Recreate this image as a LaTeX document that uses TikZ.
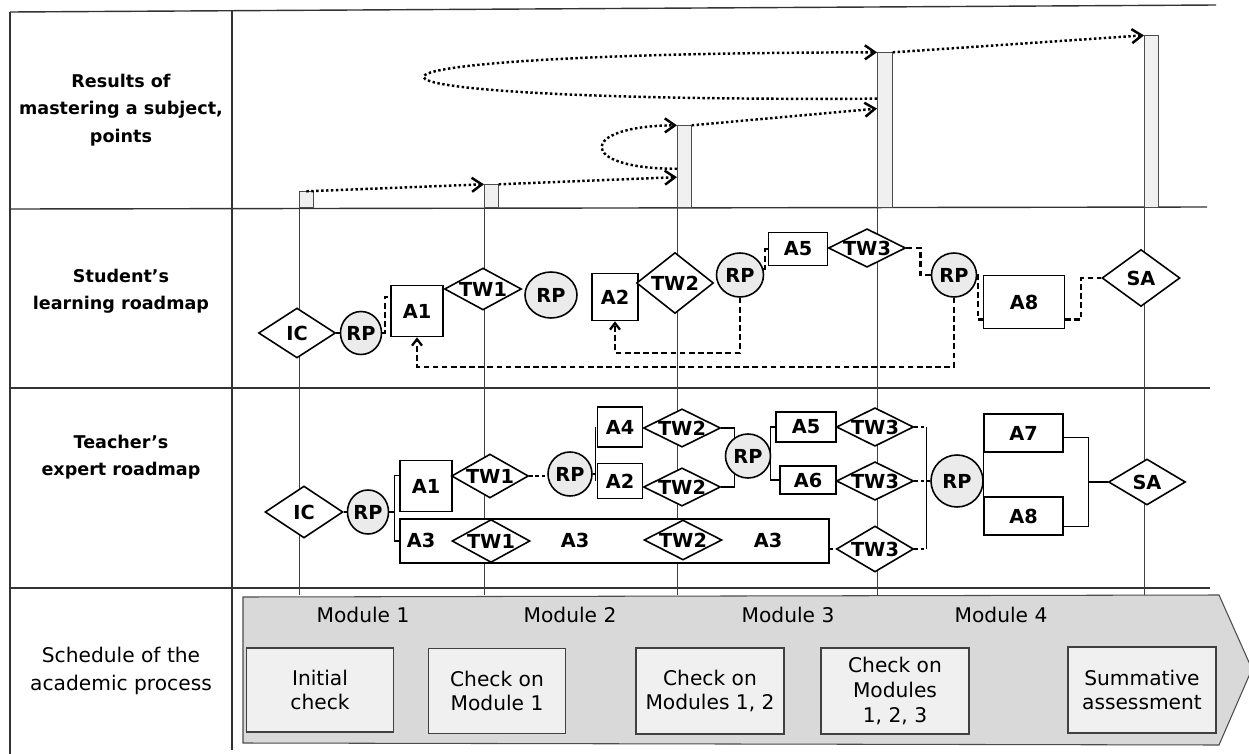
\documentclass[tikz,border=0pt]{standalone}
\usepackage{fontspec}
\setmainfont{DejaVu Sans}
\usetikzlibrary{shapes.geometric, arrows.meta}

\begin{document}
\begin{tikzpicture}[x=0.02cm, y=-0.02cm,
   sz/.style 2 args={minimum width=#1*0.2mm, minimum height=#2*0.2mm},
   act/.style={draw, line width=0.9pt, rectangle, inner sep=0pt, fill=white, font=\bfseries\fontsize{11}{13}\selectfont},
   tw/.style={draw, line width=0.9pt, diamond, aspect=2, inner sep=0pt, fill=white, font=\bfseries\fontsize{11}{13}\selectfont},
   rp/.style={draw, line width=0.9pt, ellipse, inner sep=0pt, fill=black!8, font=\bfseries\fontsize{11}{13}\selectfont},
   lbl/.style={font=\bfseries\fontsize{11}{13}\selectfont},
   bar/.style={draw=black!70, fill=black!6, inner sep=0pt, anchor=south west},
   tabline/.style={line width=0.8pt, black!80},
   tl/.style={black!75, line width=0.4pt},
   res/.style={line width=1.4pt, dash pattern=on 1.4pt off 1.4pt, -{Straight Barb[length=2mm, width=2.8mm]}},
   fb/.style={line width=1.3pt, dash pattern=on 3.2pt off 2pt, -{Straight Barb[length=1.3mm, width=2mm]}},
   sl/.style={line width=1.3pt, dash pattern=on 3.2pt off 2pt},
   tlk/.style={line width=0.9pt, dash pattern=on 2pt off 1.5pt},
   br/.style={line width=0.6pt},
   rowlab/.style={align=center, font=\bfseries\fontsize{10}{15.5}\selectfont},
   modlab/.style={font=\fontsize{11.5}{14}\selectfont},
   sched/.style={draw=black!75, semithick, fill=black!6, align=center, inner sep=0pt, font=\fontsize{11.5}{14}\selectfont}]
\useasboundingbox (0,0) rectangle (1249,754);

\draw[tabline] (10,12) -- (1216,5);
\draw[tabline] (10,12) -- (10,754);
\draw[tabline] (232,11) -- (232,750);
\draw[tabline] (10,209) -- (1207,207);
\draw[tabline] (10,388) -- (1210,388);
\draw[tabline] (10,588) -- (1210,588);

\node[rowlab] (lres) at (121,110) {Results of\\mastering a subject,\\points};
\node[rowlab] (lstu) at (121,291) {Student's\\learning roadmap};
\node[rowlab] (ltea) at (121,457) {Teacher's\\expert roadmap};
\node[rowlab, font=\fontsize{11.5}{16}\selectfont] (lsch) at (121,671) {Schedule of the\\academic process};

\draw[draw=black!70, semithick, fill=black!15] (243,597) -- (1219,595) -- (1252,669) -- (1219,745) -- (243,743) -- cycle;
\foreach \x/\n in {363/1, 570/2, 788/3, 1001/4}
  \node[modlab] (m\n) at (\x,615) {Module \n};
\node[sched, sz={147}{84}] (s1) at (320,690) {Initial\\check};
\node[sched, sz={137}{85}] (s2) at (497,691) {Check on\\Module 1};
\node[sched, sz={148}{86}] (s3) at (710,691) {Check on\\Modules 1, 2};
\node[sched, sz={148}{86}] (s4) at (895,691) {Check on\\Modules\\1, 2, 3};
\node[sched, sz={148}{86}] (s5) at (1142,690) {Summative\\assessment};

\node[bar, sz={14}{16}] (r1) at (299,208) {};
\node[bar, sz={14}{23}] (r2) at (484,208) {};
\node[bar, sz={14}{82}] (r3) at (677,208) {};
\node[bar, sz={15}{155}] (r4) at (877,208) {};
\node[bar, sz={14}{172}] (r5) at (1144,208) {};
\foreach \r in {1,...,5}
  \draw[tl] (r\r.south west) -- ++(0,387);

\draw[res] (r1.north) -- (r2.north west);
\draw[res] (r2.north east) -- (r3.235);
\draw[res] (r3.196) .. controls (577,169) and (577,126) .. (r3.north west);
\draw[res] (r3.north east) -- (r4.110);
\draw[res] (r4.104) .. controls (273,102) and (273,53) .. (r4.north west);
\draw[res] (r4.north east) -- (r5.north west);

\node[tw, sz={77}{50}] (ics) at (297,333) {IC};
\node[rp, sz={37}{43}] (rps1) at (361,333) {RP};
\node[act, sz={52}{51}] (a1s) at (417,311) {A1};
\node[tw, sz={77}{42}] (tw1s) at (483,289) {TW1};
\node[rp, sz={52}{46}] (rps2) at (551,295) {RP};
\node[act, sz={46}{47}] (a2s) at (615,297) {A2};
\node[tw, sz={77}{61}] (tw2s) at (675,283) {TW2};
\node[rp, sz={47}{44}] (rps3) at (740,275) {RP};
\node[act, sz={59}{33}] (a5s) at (798,249) {A5};
\node[tw, sz={77}{38}] (tw3s) at (867,248) {TW3};
\node[rp, sz={45}{44}] (rps4) at (954,275) {RP};
\node[act, sz={81}{53}] (a8s) at (1024,302) {A8};
\node[tw, sz={78}{57}] (sas) at (1141,278) {SA};

\draw[br] (ics.east) -- (rps1.west);
\draw[sl] (rps1.east) -- ++(3,0) |- (a1s.152);
\draw[sl] (rps3.15) -- ++(2,0) |- (a5s.west);
\draw[sl] (tw3s.east) -- ++(14,0) |- (rps4.west);
\draw[sl] (rps4.east) -- ++(1,0) |- (a8s.203);
\draw[sl] (a8s.-23) -- ++(16,0) |- (sas.west);
\draw[fb] (rps3.south) -- ++(0,55) -| (a2s.south);
\draw[fb] (rps4.south) -- ++(0,69) -| (a1s.south);

\node[tw, sz={78}{52}] (ict) at (304,512) {IC};
\node[rp, sz={37}{44}] (rpt1) at (368,512) {RP};
\node[act, sz={52}{51}] (a1t) at (426,486) {A1};
\node[act, sz={429}{44}] (a3t) at (614.5,541) {};
\foreach \x/\n in {421/x, 575/y, 768/z}
  \node[lbl] (a3\n) at (\x,540) {A3};
\node[tw, sz={77}{44}] (tw1t) at (490,476) {TW1};
\node[tw, sz={78}{43}] (tw1u) at (491,541) {TW1};
\node[rp, sz={44}{44}] (rpt2) at (570,474) {RP};
\node[act, sz={45}{40}] (a4t) at (620,427) {A4};
\node[act, sz={45}{35}] (a2t) at (620,481) {A2};
\node[tw, sz={77}{38}] (tw2t) at (682,428) {TW2};
\node[tw, sz={77}{38}] (tw2u) at (682,487) {TW2};
\node[tw, sz={78}{40}] (tw2v) at (683,540) {TW2};
\node[act, sz={60}{30}] (a5t) at (806,427) {A5};
\node[act, sz={56}{28}] (a6t) at (808,480) {A6};
\node[tw, sz={77}{37}] (tw3t) at (875,427) {TW3};
\node[tw, sz={77}{37}] (tw3u) at (875,481) {TW3};
\node[tw, sz={77}{46}] (tw3v) at (875,549) {TW3};

\draw[br] (ict.east) -- (rpt1.west);
\draw[br] (rpt1.east) -- ++(5,0) coordinate (b1);
\draw[br] (a1t.159) -| (b1) |- (a3t.west);
\draw[tlk] (tw1t.east) -- (tw1t.east -| rpt2.west);
\draw[br] (rpt2.east) -- ++(3,0) coordinate (b2);
\draw[br] (b2 |- a4t.west) -- (b2 |- a2t.west);
\draw[br] (tw2t.east) -- ++(13,0) |- (tw2u.east);
\node[rp, sz={45}{44}] (rpt3) at (748,456) {RP};
\draw[br] (a5t.west) -- ++(-5,0) |- (a6t.west);

\node[rp, sz={52}{52}] (rpt4) at (957,481) {RP};
\node[act, sz={79}{38}] (a7t) at (1023.5,433) {A7};
\node[act, sz={79}{38}] (a8t) at (1023.5,516) {A8};
\node[tw, sz={77}{46}] (sat) at (1147,482) {SA};

\draw[tlk] (tw3v.west -| a3t.east) -- (tw3v.west);
\draw[tlk] (tw3t.east) -- ++(12,0) coordinate (c1);
\draw[tlk] (tw3u.east) -- ++(12,0) coordinate (c2);
\draw[tlk] (tw3v.east) -- ++(12,0) coordinate (c3);
\draw[br] (c1) -- (c3);
\draw[tlk] (c2) -- (c2 -| rpt4.west);
\draw[br] (a7t.south west) -- (a8t.north west);
\draw[br] (a7t.-6) -- ++(25,0) coordinate (d1) |- (a8t.-14);
\draw[br] (sat.west) -- (sat.west -| d1);
\end{tikzpicture}
\end{document}
